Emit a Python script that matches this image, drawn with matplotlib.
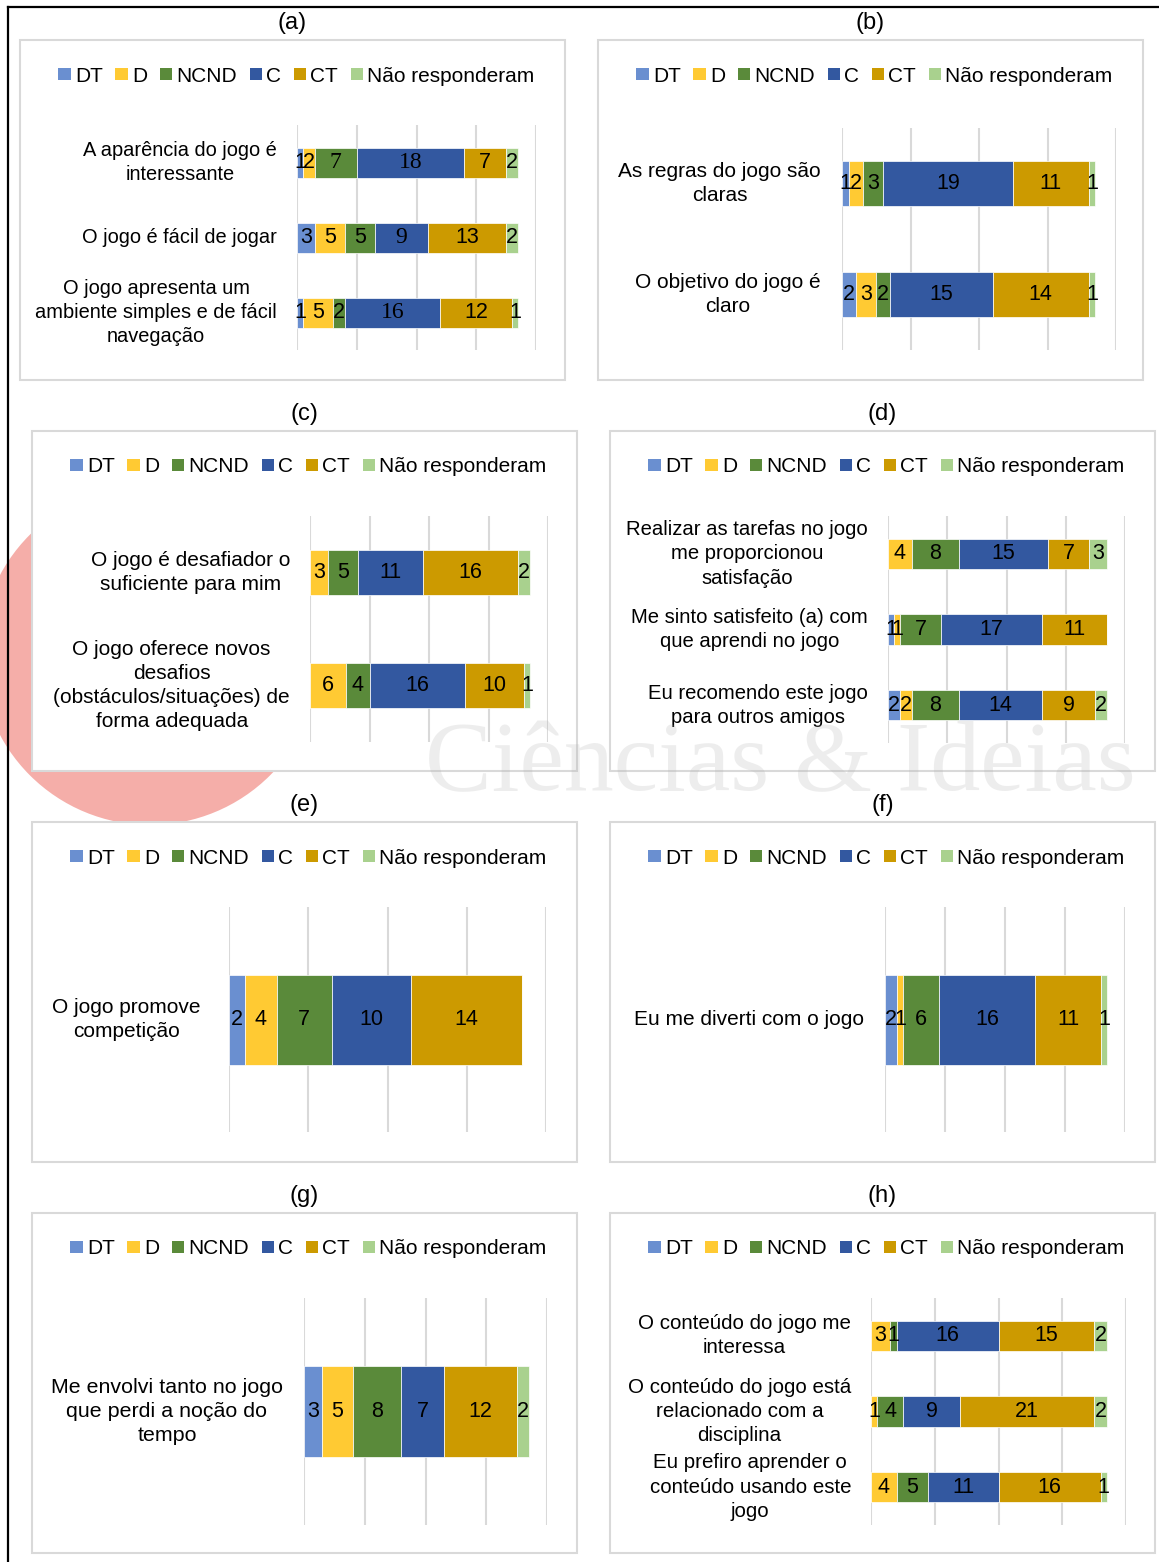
import matplotlib
matplotlib.use("Agg")
import matplotlib.pyplot as plt
from matplotlib.patches import Rectangle, Ellipse
from matplotlib.lines import Line2D

plt.rcParams['font.family'] = ['Liberation Sans', 'DejaVu Sans']

W, H = 1159, 1562

series = ["DT", "D", "NCND", "C", "CT", "Não responderam"]
colors = ["#6A8FD0", "#FFCA33", "#5A8A3A", "#3358A0", "#CC9A00", "#A9D18E"]

# answers per statement: DT, D, NCND, C, CT, no answer
a_questions = ["A aparência do jogo é\ninteressante",
               "O jogo é fácil de jogar",
               "O jogo apresenta um\nambiente simples e de fácil\nnavegação"]
a_values = [[1, 2, 7, 18, 7, 2],
            [3, 5, 5, 9, 13, 2],
            [1, 5, 2, 16, 12, 1]]

b_questions = ["As regras do jogo são\nclaras",
               "O objetivo do jogo é\nclaro"]
b_values = [[1, 2, 3, 19, 11, 1],
            [2, 3, 2, 15, 14, 1]]

c_questions = ["O jogo é desafiador o\nsuficiente para mim",
               "O jogo oferece novos\ndesafios\n(obstáculos/situações) de\nforma adequada"]
c_values = [[0, 3, 5, 11, 16, 2],
            [0, 6, 4, 16, 10, 1]]

d_questions = ["Realizar as tarefas no jogo\nme proporcionou\nsatisfação",
               "Me sinto satisfeito (a) com\nque aprendi no jogo",
               "Eu recomendo este jogo\npara outros amigos"]
d_values = [[0, 4, 8, 15, 7, 3],
            [1, 1, 7, 17, 11, 0],
            [2, 2, 8, 14, 9, 2]]

e_questions = ["O jogo promove\ncompetição"]
e_values = [[2, 4, 7, 10, 14, 0]]

f_questions = ["Eu me diverti com o jogo"]
f_values = [[2, 1, 6, 16, 11, 1]]

g_questions = ["Me envolvi tanto no jogo\nque perdi a noção do\ntempo"]
g_values = [[3, 5, 8, 7, 12, 2]]

h_questions = ["O conteúdo do jogo me\ninteressa",
               "O conteúdo do jogo está\nrelacionado com a\ndisciplina",
               "Eu prefiro aprender o\nconteúdo usando este\njogo"]
h_values = [[0, 3, 1, 16, 15, 2],
            [0, 1, 4, 9, 21, 2],
            [0, 4, 5, 11, 16, 1]]

# labels in panel (a) that came out in a serif face: (row, series)
a_serif = [(0, 2), (0, 3), (1, 3), (2, 3)]

# layout in pixels: frame box, plot area (x0, y0, x1, y1), label pad, label size
panels = [
    ("(a)", a_questions, a_values, (20, 40, 565, 380), (297, 125, 536, 350), 20, 14.4, a_serif),
    ("(b)", b_questions, b_values, (598, 40, 1143, 380), (842, 128, 1116, 350), 21, 15, []),
    ("(c)", c_questions, c_values, (32, 431, 577, 771), (310, 516, 548, 742), 20, 15, []),
    ("(d)", d_questions, d_values, (610, 431, 1155, 771), (888, 516, 1125, 743), 20, 14.6, []),
    ("(e)", e_questions, e_values, (32, 822, 577, 1162), (229, 907, 546, 1132), 28, 15, []),
    ("(f)", f_questions, f_values, (610, 822, 1155, 1162), (885, 907, 1125, 1132), 21, 15, []),
    ("(g)", g_questions, g_values, (32, 1213, 577, 1553), (304, 1298, 547, 1525), 21, 15.4, []),
    ("(h)", h_questions, h_values, (610, 1213, 1155, 1553), (871, 1298, 1126, 1525), 20, 14.8, []),
]


def fig_rect(x0, y0, x1, y1):
    return [x0 / W, 1 - y1 / H, (x1 - x0) / W, (y1 - y0) / H]


fig = plt.figure(figsize=(W / 100, H / 100), dpi=100)
fig.patch.set_facecolor("white")

# faint logo disc behind the panels
fig.patches.append(Ellipse((150 / W, 1 - 655 / H), 2 * 170 / W, 2 * 170 / H,
                           transform=fig.transFigure, facecolor="#F5AEA9",
                           edgecolor="none", zorder=-3))

# outer frame (left and top edges)
fig.add_artist(Line2D([8 / W, 8 / W], [0, 1 - 7 / H], transform=fig.transFigure,
                      color="black", lw=1.6))
fig.add_artist(Line2D([8 / W, 1], [1 - 7 / H, 1 - 7 / H], transform=fig.transFigure,
                      color="black", lw=1.6))


def draw_panel(tag, questions, values, box, plot, pad, label_size, serif):
    bx0, by0, bx1, by1 = box
    x, y, w, h = fig_rect(*box)
    fig.patches.append(Rectangle((x, y), w, h, transform=fig.transFigure,
                                 facecolor="white", edgecolor="#D9D9D9",
                                 lw=1.5, zorder=-2))
    fig.text((bx0 + bx1) / 2 / W, 1 - (by0 - 17) / H, tag, ha="center",
             va="center", fontsize=17)

    ax = fig.add_axes(fig_rect(*plot))
    ax.set_facecolor("none")
    n = len(questions)
    pos = list(range(n))
    left = [0] * n
    for k, name in enumerate(series):
        vals = [row[k] for row in values]
        bars = ax.barh(pos, vals, left=left, height=0.4, color=colors[k],
                       edgecolor="white", linewidth=0.5, label=name)
        texts = ax.bar_label(bars, labels=[str(v) if v else "" for v in vals],
                             label_type="center", fontsize=15.5)
        for r, t in enumerate(texts):
            if (r, k) in serif:
                t.set_fontfamily("Liberation Serif")
                t.set_fontsize(17)
        left = [l + v for l, v in zip(left, vals)]

    ax.set_xlim(0, 40)
    ax.set_ylim(n - 0.5, -0.5)
    ax.set_xticks(range(0, 41, 10))
    ax.grid(axis="x", color="#D9D9D9", lw=1.5)
    ax.set_axisbelow(True)
    ax.set_yticks(pos, questions)
    for t in ax.get_yticklabels():
        t.set_multialignment("center")
        t.set_verticalalignment("center")
        t.set_fontsize(label_size)
        t.set_linespacing(1.35)
    ax.tick_params(length=0, labelbottom=False, pad=pad * 0.72)
    for s in ax.spines.values():
        s.set_visible(False)

    leg = ax.legend(loc="center", bbox_to_anchor=(((bx0 + bx1) / 2 + 4) / W, 1 - (by0 + 36) / H),
                    bbox_transform=fig.transFigure, ncol=6, frameon=False,
                    fontsize=15, handlelength=0.6, handleheight=0.55,
                    handletextpad=0.2, columnspacing=0.6, borderpad=0)
    for hnd in leg.legend_handles:
        hnd.set_edgecolor("none")


for p in panels:
    draw_panel(*p)

# watermark lettering over the lower middle
fig.text(425 / W, 1 - 790 / H, "Ciências & Ideias", fontsize=72,
         family="Liberation Serif", color="#B0B0B0", alpha=0.22,
         ha="left", va="baseline", zorder=5)

fig.savefig("out.png", dpi=100)
